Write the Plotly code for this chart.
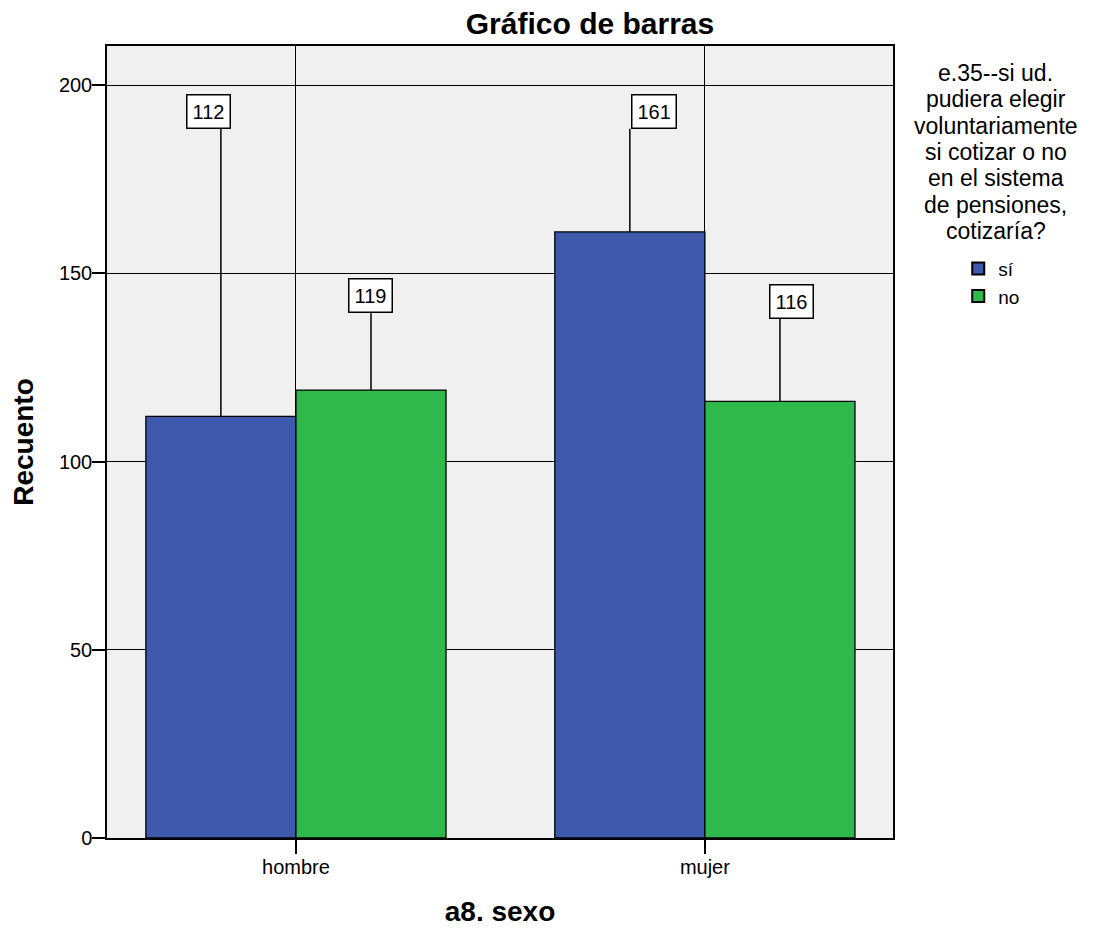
"""Grouped bar chart: e.35 (would contribute to pensions) by a8. sexo."""
import plotly.graph_objects as go

SEXO = ["hombre", "mujer"]
SERIES = ["sí", "no"]
COUNTS = {
    "sí": [112, 161],
    "no": [119, 116],
}
COLORS = {"sí": "#3e58ab", "no": "#2fb84b"}
LEGEND_TITLE_LINES = [
    "e.35--si ud.", "pudiera elegir", "voluntariamente", "si cotizar o no",
    "en el sistema", "de pensiones,", "cotizaría?",
]

# where SPSS parked each value label (data units) and its sideways nudge (px)
LABEL_Y = {"sí": [193, 193], "no": [144, 142.5]}
LABEL_SHIFT = {"sí": [-12, 24], "no": [0, 12]}
BOX_HALF = 4.6  # half label-box height, in data units

FONT = "Arial, Liberation Sans, sans-serif"
BAR_GAP = 0.266
BAR_W = (1 - BAR_GAP) / len(SERIES)

fig = go.Figure()
for name in SERIES:
    fig.add_trace(
        go.Bar(
            x=SEXO,
            y=COUNTS[name],
            name=name,
            marker=dict(color=COLORS[name], line=dict(color="black", width=1.3)),
        )
    )

# value labels with leader lines
for s, name in enumerate(SERIES):
    offset = (s - (len(SERIES) - 1) / 2) * BAR_W
    for i, val in enumerate(COUNTS[name]):
        xc = i + offset
        fig.add_shape(
            type="line", xref="x", yref="y",
            x0=xc, x1=xc, y0=val, y1=LABEL_Y[name][i] - BOX_HALF,
            line=dict(color="black", width=1.5),
        )
        fig.add_annotation(
            x=xc, y=LABEL_Y[name][i], xref="x", yref="y",
            text=str(val), showarrow=False, xshift=LABEL_SHIFT[name][i],
            font=dict(family=FONT, size=20, color="black"),
            bgcolor="white", bordercolor="black", borderwidth=1.5, borderpad=5,
        )

# legend title, centred block like SPSS (one line at a time for tight spacing)
for k, line in enumerate(LEGEND_TITLE_LINES):
    fig.add_annotation(
        x=1.131, y=1.0, xref="paper", yref="paper", xanchor="center", yanchor="middle",
        yshift=-27 - 26.3 * k,
        text=line, showarrow=False,
        font=dict(family=FONT, size=23, color="black"),
    )

fig.update_layout(
    width=1093, height=920,
    margin=dict(l=99, r=208, t=38, b=90, autoexpand=False),
    paper_bgcolor="white",
    plot_bgcolor="#f0f0f0",
    barmode="group",
    bargap=BAR_GAP,
    bargroupgap=0,
    font=dict(family=FONT, size=20, color="black"),
    title=dict(
        text="<b>Gráfico de barras</b>", x=582 / 1093, xanchor="center",
        y=1 - 15 / 920, yanchor="middle", font=dict(size=30),
    ),
    legend=dict(
        x=1.083, y=0.743, xanchor="left", yanchor="top",
        font=dict(size=19), itemsizing="constant", tracegroupgap=0,
        bgcolor="rgba(0,0,0,0)",
    ),
    xaxis=dict(
        range=[-0.462, 1.46], automargin=False,
        showgrid=True, gridcolor="black", gridwidth=1.3,
        ticks="outside", ticklen=14, tickwidth=1.5, tickcolor="black",
        ticklabelstandoff=-4,
        showline=True, linecolor="black", linewidth=1.5, mirror=True,
        title=dict(text="<b>a8. sexo</b>", font=dict(size=28), standoff=25),
    ),
    yaxis=dict(
        range=[0, 210.4], automargin=False,
        tickvals=[0, 50, 100, 150, 200],
        showgrid=True, gridcolor="black", gridwidth=1.3, zeroline=False,
        ticks="outside", ticklen=13, tickwidth=1.5, tickcolor="black",
        ticklabelstandoff=-4,
        showline=True, linecolor="black", linewidth=1.5, mirror=True,
        title=dict(text="<b>Recuento</b>", font=dict(size=28), standoff=24),
    ),
)

fig.write_html("out.html")
